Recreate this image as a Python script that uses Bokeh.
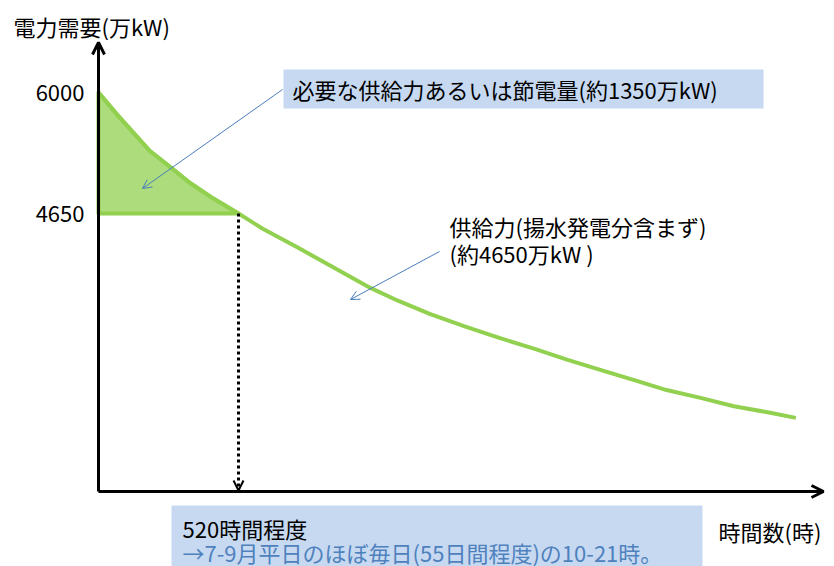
from bokeh.plotting import figure
from bokeh.models import Range1d, Label, Arrow, OpenHead
from bokeh.embed import file_html
from bokeh.resources import INLINE

# ---- data ----
hours = [0, 70, 130, 190, 270, 340, 420, 520, 610, 740, 860, 1010, 1110, 1230, 1360,
         1480, 1620, 1740, 1870, 1990, 2110, 2240, 2360, 2490, 2590]
demand = [6000, 5750, 5550, 5350, 5160, 4990, 4830, 4650, 4480, 4270, 4070, 3820, 3680, 3530, 3390,
          3270, 3140, 3020, 2900, 2790, 2680, 2590, 2500, 2430, 2370]
supply = 4650
peak = 6000
cross_hours = 520
y_tick_labels = ["6000", "4650"]
y_tick_values = [6000, 4650]

title_y = "電力需要(万kW)"
title_x = "時間数(時)"
note_top = "必要な供給力あるいは節電量(約1350万kW)"
note_supply = ["供給力(揚水発電分含まず)", "(約4650万kW )"]
note_bottom = ["520時間程度", "→7-9月平日のほぼ毎日(55日間程度)の10-21時。"]

# ---- layout helpers (pixel -> data) ----
HPX = 520 / 140.0
VPX = 1350 / 121.0
def X(px):
    return (px - 98) * HPX
def Y(py):
    return 6000 - (py - 92) * VPX

FONT = "Noto Sans CJK JP"
FS = "22px"
GREEN = "#92d050"
BLUE = "#4a7ebb"
BOXC = "#c6d9f1"

p = figure(width=834, height=566, x_range=Range1d(X(0), X(834)), y_range=Range1d(Y(566), Y(0)),
           output_backend="svg", toolbar_location=None, min_border=0,
           x_axis_location=None, y_axis_location=None)
p.grid.visible = False
p.outline_line_color = None
p.background_fill_color = "white"
p.border_fill_color = "white"

y0 = Y(491)

# boxes
p.quad(left=[X(283)], right=[X(763)], top=[Y(69)], bottom=[Y(108)], fill_color=BOXC, line_color=None)
p.quad(left=[X(171)], right=[X(702)], top=[Y(505)], bottom=[Y(570)], fill_color=BOXC, line_color=None)

# shaded area
k = hours.index(cross_hours)
px_ = hours[:k + 1] + [0]
py_ = demand[:k + 1] + [supply]
p.patch(px_, py_, fill_color=GREEN, fill_alpha=0.75, line_color=GREEN, line_width=4, line_join="round")

# curve
p.line(hours, demand, line_color=GREEN, line_width=4, line_join="round")

# axes
p.add_layout(Arrow(end=OpenHead(size=12, line_width=3, line_color="black"),
                   x_start=0, y_start=y0, x_end=0, y_end=Y(42), line_width=3, line_color="black"))
p.add_layout(Arrow(end=OpenHead(size=12, line_width=3, line_color="black"),
                   x_start=0, y_start=y0, x_end=X(823), y_end=y0, line_width=3, line_color="black"))

# dotted drop arrow
p.add_layout(Arrow(end=OpenHead(size=10, line_width=2, line_color="black"),
                   x_start=cross_hours, y_start=supply, x_end=cross_hours, y_end=y0 + 1 * VPX,
                   line_width=3, line_color="black", line_dash="3 3"))

# blue pointers
p.add_layout(Arrow(end=OpenHead(size=9, line_width=1, line_color=BLUE),
                   x_start=X(282), y_start=Y(89), x_end=X(142), y_end=Y(188), line_width=1, line_color=BLUE))
p.add_layout(Arrow(end=OpenHead(size=9, line_width=1, line_color=BLUE),
                   x_start=X(439), y_start=Y(251), x_end=X(350), y_end=Y(299), line_width=1, line_color=BLUE))

def lab(x, y, t, color="black", align="left"):
    p.add_layout(Label(x=x, y=y, text=t, text_font=FONT, text_font_size=FS, text_color=color,
                       text_align=align, text_baseline="middle"))

lab(X(13), Y(25), title_y)
for v, t in zip(y_tick_values, y_tick_labels):
    lab(X(84), v, t, align="right")
lab(X(292), Y(88), note_top)
lab(X(449), Y(225), note_supply[0])
lab(X(449), Y(252), note_supply[1])
lab(X(182), Y(527), note_bottom[0])
lab(X(182), Y(551), note_bottom[1], color="#4f81bd")
lab(X(718), Y(530), title_x)

open("out.html", "w").write(file_html(p, INLINE))
